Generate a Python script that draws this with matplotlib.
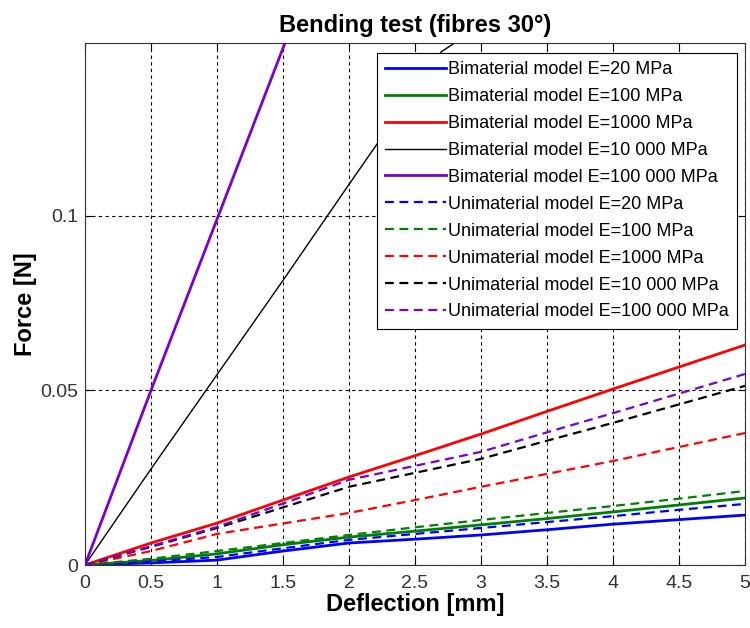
import matplotlib
matplotlib.use('Agg')
import matplotlib.pyplot as plt

plt.rcParams['font.family'] = ['Liberation Sans', 'DejaVu Sans']

# deflection [mm]
x = [0, 0.5, 1, 1.5, 2, 2.5, 3, 3.5, 4, 4.5, 5]
x_stiff = [0, 0.5, 1, 1.5, 1.6]
x_10k = [0, 0.5, 1, 1.5, 2, 2.5, 2.7, 2.8, 3.0]

# bimaterial model, force [N]
bi_20 = [0, 0.0006, 0.0014, 0.0040, 0.0063, 0.0074, 0.0086, 0.0101, 0.0117, 0.0130, 0.0143]
bi_100 = [0, 0.0013, 0.0032, 0.0058, 0.0080, 0.0097, 0.0115, 0.0133, 0.0152, 0.0172, 0.0192]
bi_1000 = [0, 0.0063, 0.0120, 0.0186, 0.0252, 0.0313, 0.0375, 0.0440, 0.0504, 0.0567, 0.0630]
bi_10000 = [0, 0.0275, 0.0545, 0.0815, 0.1090, 0.1362, 0.1470, 0.1495, 0.1520]
bi_100000 = [0, 0.0500, 0.0990, 0.1480, 0.1580]

# unimaterial model, force [N]
uni_20 = [0, 0.0010, 0.0023, 0.0048, 0.0072, 0.0089, 0.0106, 0.0123, 0.0140, 0.0158, 0.0175]
uni_100 = [0, 0.0018, 0.0040, 0.0063, 0.0086, 0.0108, 0.0129, 0.0149, 0.0169, 0.0190, 0.0212]
uni_1000 = [0, 0.0040, 0.0089, 0.0119, 0.0149, 0.0186, 0.0224, 0.0261, 0.0298, 0.0338, 0.0378]
uni_10000 = [0, 0.0052, 0.0106, 0.0165, 0.0224, 0.0264, 0.0304, 0.0356, 0.0407, 0.0460, 0.0513]
uni_100000 = [0, 0.0054, 0.0109, 0.0176, 0.0244, 0.0284, 0.0324, 0.0380, 0.0435, 0.0491, 0.0547]

blue = '#0000ff'
green = '#008000'
red = '#ff0000'
black = '#000000'
purple = '#7b00d0'

fig = plt.figure(figsize=(7.5, 6.28), dpi=100)
ax = fig.add_axes([0.1133, 0.1003, 0.88, 0.8312])

ax.plot(x, bi_20, color=blue, lw=2, label='Bimaterial model E=20 MPa')
ax.plot(x, bi_100, color=green, lw=2, label='Bimaterial model E=100 MPa')
ax.plot(x, bi_1000, color=red, lw=2, label='Bimaterial model E=1000 MPa')
ax.plot(x_10k, bi_10000, color=black, lw=1, label='Bimaterial model E=10 000 MPa')
ax.plot(x_stiff, bi_100000, color=purple, lw=2, label='Bimaterial model E=100 000 MPa')
dash = (0, (4, 2.5))
ax.plot(x, uni_20, color=blue, lw=1.6, ls=dash, label='Unimaterial model E=20 MPa')
ax.plot(x, uni_100, color=green, lw=1.6, ls=dash, label='Unimaterial model E=100 MPa')
ax.plot(x, uni_1000, color=red, lw=1.6, ls=dash, label='Unimaterial model E=1000 MPa')
ax.plot(x, uni_10000, color=black, lw=1.6, ls=dash, label='Unimaterial model E=10 000 MPa')
ax.plot(x, uni_100000, color=purple, lw=1.6, ls=dash, label='Unimaterial model E=100 000 MPa')

ax.set_xlim(0, 5)
ax.set_ylim(0, 0.1495)
ax.set_xticks([0, 0.5, 1, 1.5, 2, 2.5, 3, 3.5, 4, 4.5, 5])
ax.set_xticklabels(['0', '0.5', '1', '1.5', '2', '2.5', '3', '3.5', '4', '4.5', '5'])
ax.set_yticks([0, 0.05, 0.1])
ax.set_yticklabels(['0', '0.05', '0.1'])
ax.tick_params(direction='in', top=True, right=True, length=5, labelsize=14,
               labelcolor='#333333')
ax.tick_params(axis='x', pad=7)
ax.tick_params(axis='y', pad=5)
ax.grid(True, color='black', ls=(0, (3, 3)), lw=0.8)
for s in ax.spines.values():
    s.set_color('#333333')

ax.set_xlabel('Deflection [mm]', fontsize=17, fontweight='bold', labelpad=1)
ax.set_ylabel('Force [N]', fontsize=17, fontweight='bold', labelpad=2)
ax.set_title('Bending test (fibres 30°)', fontsize=17, fontweight='bold', pad=8)

leg = ax.legend(loc='upper right', bbox_to_anchor=(0.988, 0.981), fontsize=13,
                frameon=True, fancybox=False, framealpha=1, edgecolor='black',
                handlelength=3.4, handletextpad=0.1, labelspacing=0.55,
                borderpad=0.45, borderaxespad=0)
leg.get_frame().set_linewidth(0.8)

fig.savefig('out.png', dpi=100)
